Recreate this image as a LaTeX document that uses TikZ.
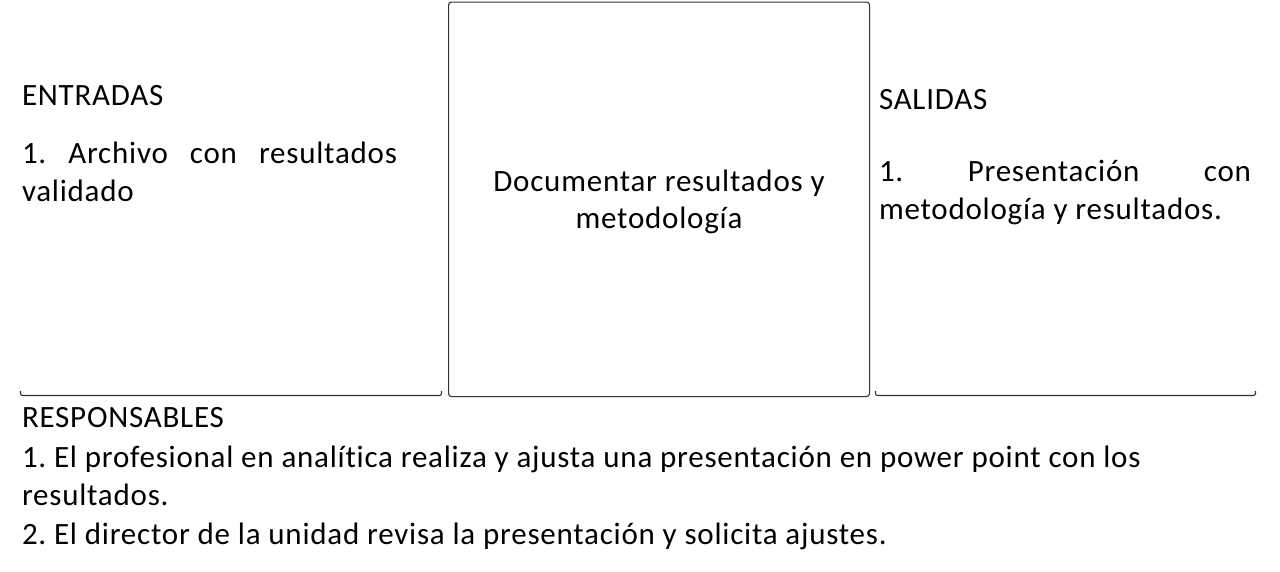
\documentclass[tikz,border=0pt]{standalone}
\usepackage{fontspec}
\setmainfont[LetterSpace=2.5,Ligatures=CommonOff]{Carlito}
\frenchspacing
\begin{document}
\begin{tikzpicture}[x=1pt,y=-1pt,
  txt/.style={anchor=base west,inner sep=0pt,outer sep=0pt,font=\fontsize{31}{39}\selectfont},
  ctxt/.style={anchor=base,inner sep=0pt,outer sep=0pt,font=\fontsize{31}{39}\selectfont},
  frame/.style={draw=black!80,line width=1.1pt,rounded corners=3pt}]
\useasboundingbox (0,0) rectangle (1280,571);
% central box
\node[frame,minimum width=421pt,minimum height=394.5pt,anchor=north west,inner sep=0pt] (proc) at (448,1.5) {};
% bottom lines
\coordinate (la) at (20.5,391);
\coordinate (lb) at (441.5,391);
\coordinate (ra) at (875.5,391);
\coordinate (rb) at (1255.5,391);
\draw[frame,rounded corners=2pt] (la) |- (441.5,395.5) -- (lb);
\draw[frame,rounded corners=2pt] (ra) |- (1255.5,395.5) -- (rb);
% entradas
\node[txt] (ent) at (22,105) {ENTRADAS};
\node[txt] (ent1) at (22,163) {\makebox[375pt][s]{1. Archivo con resultados}};
\node[txt] (ent2) at (22,201) {validado};
% center
\node[ctxt] (c1) at (659,191) {Documentar resultados y};
\node[ctxt] (c2) at (659,228) {metodología};
% salidas
\node[txt] (sal) at (879,109) {SALIDAS};
\node[txt] (sal1) at (879,181) {\makebox[372pt][s]{1. Presentación con}};
\node[txt] (sal2) at (879,219) {metodología y resultados.};
% responsables
\node[txt] (res) at (22,427) {RESPONSABLES};
\node[txt] (res1) at (22,467) {1. El profesional en analítica realiza y ajusta una presentación en power point con los};
\node[txt] (res2) at (22,505) {resultados.};
\node[txt] (res3) at (22,544) {2. El director de la unidad revisa la presentación y solicita ajustes.};
\end{tikzpicture}
\end{document}
